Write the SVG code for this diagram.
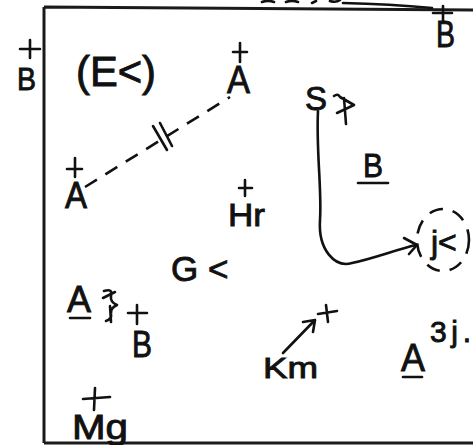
<svg xmlns="http://www.w3.org/2000/svg" width="473" height="445" viewBox="0 0 473 445">
<style>
.t{font-family:"Liberation Sans","DejaVu Sans",Arial,sans-serif;fill:#111;stroke:#111;stroke-width:0.9}
.s{fill:none;stroke:#111;stroke-width:2.6;stroke-linecap:round;stroke-linejoin:round}
.b{fill:none;stroke:#1a1a1a;stroke-width:3}
.d{fill:none;stroke:#111;stroke-width:2.6;stroke-dasharray:14 10}
</style>
<rect width="473" height="445" fill="#fff"/>
<g id="frame">
<path class="b" d="M44 7 L473 10 M44 7 L44 443 M44 443 L473 443"/>
<path class="s" d="M262 2 Q268 0 274 2 M286 2 Q292 0 298 2 M312 3 L316 1 M330 1 Q336 3 340 0 M343 3 Q390 4 432 8" stroke-width="2"/>
</g>
<g id="connectors">
<path class="d" d="M85 187 L230 97"/>
<path class="s" d="M153 126 L167 150 M160 123 L172 146"/>
<path class="s" d="M318 111 C316 150 322 190 320 220 C318 250 335 268 352 263 C375 258 395 250 416 245"/>
<path class="s" d="M404 238 L417 245 L409 254"/>
<path class="s" d="M283 353 L315 320 M303 322 L315 320 L313 332"/>
</g>
<g id="B-left">
<path class="s" d="M20 49 H40 M30 40 V58"/>
<text class="t" x="17" y="90" font-size="32" textLength="19" lengthAdjust="spacingAndGlyphs">B</text>
</g>
<g id="E">
<text class="t" x="76" y="86" font-size="42" textLength="80" lengthAdjust="spacingAndGlyphs">(E&lt;)</text>
</g>
<g id="A-top">
<path class="s" d="M233 52 H247 M240 43 V62"/>
<text class="t" x="227" y="93" font-size="38" textLength="23" lengthAdjust="spacingAndGlyphs">A</text>
</g>
<g id="A-left">
<path class="s" d="M67 169 H82 M75 158 V177"/>
<text class="t" x="65" y="208" font-size="36" textLength="22" lengthAdjust="spacingAndGlyphs">A</text>
</g>
<g id="B-topright">
<path class="s" d="M433 13 H452 M443 6 V22"/>
<text class="t" x="436" y="47" font-size="36" textLength="19" lengthAdjust="spacingAndGlyphs">B</text>
</g>
<g id="S">
<text class="t" x="305" y="110" font-size="34" textLength="22" lengthAdjust="spacingAndGlyphs">S</text>
<path class="s" d="M334 96 Q338 93 340 97 L354 105 L337 113 M344 98 L346 124"/>
</g>
<g id="B-under">
<text class="t" x="363" y="177" font-size="34" textLength="20" lengthAdjust="spacingAndGlyphs">B</text>
<path class="s" d="M358 183 H388"/>
</g>
<g id="Hr">
<path class="s" d="M239 188 H252 M245 180 V196"/>
<text class="t" x="228" y="226" font-size="31" textLength="37" lengthAdjust="spacingAndGlyphs">Hr</text>
</g>
<g id="j">
<ellipse class="d" cx="443" cy="240" rx="26" ry="31" stroke-dasharray="12 8"/>
<text class="t" x="431" y="253" font-size="32">j&lt;</text>
</g>
<g id="G">
<text class="t" x="171" y="281" font-size="35">G &lt;</text>
</g>
<g id="A-under">
<text class="t" x="67" y="312" font-size="37" textLength="24" lengthAdjust="spacingAndGlyphs">A</text>
<path class="s" d="M70 318 H90"/>
<path class="s" d="M104 291 Q113 288 111 296 Q110 302 117 305 Q110 308 111 314 Q112 319 106 321 M103 298 L115 292 M110 306 L111 322"/>
</g>
<g id="B-plus">
<path class="s" d="M128 313 H147 M137 305 V324"/>
<text class="t" x="132" y="357" font-size="36" textLength="20" lengthAdjust="spacingAndGlyphs">B</text>
</g>
<g id="Km">
<path class="s" d="M318 314 L337 311 M326 305 L328 322"/>
<text class="t" x="263" y="378" font-size="30" textLength="55" lengthAdjust="spacingAndGlyphs">Km</text>
</g>
<g id="A3j">
<text class="t" x="401" y="371" font-size="38" textLength="24" lengthAdjust="spacingAndGlyphs">A</text>
<path class="s" d="M403 377 H422"/>
<text class="t" x="430" y="342" font-size="30" textLength="41" lengthAdjust="spacing">3j.</text>
</g>
<g id="Mg">
<path class="s" d="M83 399 L110 397 M95 388 L94 410"/>
<text class="t" x="72" y="439" font-size="35" textLength="56" lengthAdjust="spacingAndGlyphs">Mg</text>
</g>
</svg>
